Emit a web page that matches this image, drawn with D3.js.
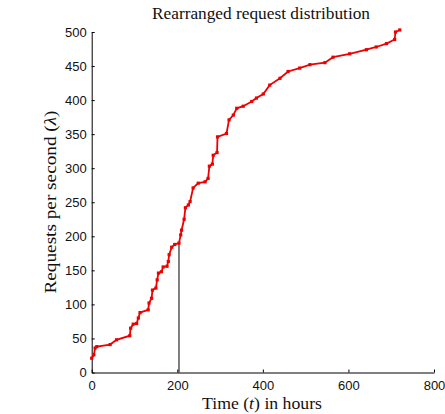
<!DOCTYPE html>
<html>
<head>
<meta charset="utf-8">
<script src="https://cdn.jsdelivr.net/npm/d3@7"></script>
<style>
  body { margin: 0; background: #fff; }
  svg { display: block; }
  .axis text { font-family: "Liberation Sans", Arial, sans-serif; font-size: 13px; fill: #111; }
  .axis path, .axis line { stroke: #000; stroke-width: 1; }
  .lbl { font-family: "Liberation Serif", "DejaVu Serif", serif; fill: #111; }
</style>
</head>
<body>
<div id="chart"></div>
<script>
// rearranged request distribution
var hours = [0, 5, 8, 12, 43, 58, 89, 91, 97, 105, 109, 113, 132, 134, 140, 142, 150, 153, 156, 163,
             167, 176, 179, 181, 187, 194, 204, 208, 210, 216, 219, 226, 230, 237, 249, 265, 272, 275,
             282, 284, 293, 294, 315, 321, 331, 339, 354, 374, 385, 401, 416, 440, 459, 486, 510, 545,
             564, 603, 642, 665, 689, 708, 710, 720];
var requests = [21, 26, 36, 38, 41, 48, 54, 65, 71, 72, 80, 88, 92, 102, 109, 121, 124, 136, 146, 148,
                155, 156, 163, 173, 184, 188, 190, 202, 209, 225, 242, 246, 251, 271, 278, 280, 285, 303,
                306, 319, 323, 346, 351, 371, 378, 388, 391, 398, 403, 409, 422, 432, 442, 447, 452, 455,
                463, 468, 474, 478, 483, 489, 500, 503];
var xTicks = [0, 200, 400, 600, 800];
var yTicks = [0, 50, 100, 150, 200, 250, 300, 350, 400, 450, 500];
var cutHour = 204;     // vertical marker line
var cutValue = 190;

var width = 445, height = 414;
var margin = {top: 32, right: 11, bottom: 41.5, left: 91.7};

var svg = d3.select("#chart").append("svg")
    .attr("width", width)
    .attr("height", height);

var g = svg.append("g");

var x = d3.scaleLinear()
    .domain([0, 800])
    .range([margin.left, width - margin.right]);

var y = d3.scaleLinear()
    .domain([0, 500])
    .range([height - margin.bottom, margin.top]);

g.append("g")
    .attr("class", "x axis")
    .attr("transform", "translate(0," + (height - margin.bottom) + ")")
    .call(d3.axisBottom(x).tickValues(xTicks).tickSizeInner(-3).tickSizeOuter(0).tickPadding(8));

g.append("g")
    .attr("class", "y axis")
    .attr("transform", "translate(" + margin.left + ",0)")
    .call(d3.axisLeft(y).tickValues(yTicks).tickSizeInner(-3).tickSizeOuter(0).tickPadding(5));

var data = hours.map(function(h, i) { return {t: h, v: requests[i]}; });

var line = d3.line()
    .x(function(d) { return x(d.t); })
    .y(function(d) { return y(d.v); });

g.append("line")
    .attr("x1", x(cutHour)).attr("x2", x(cutHour))
    .attr("y1", y(0)).attr("y2", y(cutValue))
    .attr("stroke", "#000").attr("stroke-width", 1);

g.append("path")
    .datum(data)
    .attr("fill", "none")
    .attr("stroke", "#ee0000")
    .attr("stroke-width", 1.8)
    .attr("d", line);

g.selectAll(".dot")
    .data(data)
  .enter().append("rect")
    .attr("class", "dot")
    .attr("x", function(d) { return x(d.t) - 1.6; })
    .attr("y", function(d) { return y(d.v) - 1.6; })
    .attr("width", 3.2).attr("height", 3.2)
    .attr("fill", "#ee0000");

// title and axis labels
svg.append("text").attr("class", "lbl")
    .attr("x", 261).attr("y", 19)
    .attr("text-anchor", "middle")
    .attr("font-size", 16)
    .attr("textLength", 218).attr("lengthAdjust", "spacingAndGlyphs")
    .text("Rearranged request distribution");

var xl = svg.append("text").attr("class", "lbl")
    .attr("x", 262).attr("y", 409)
    .attr("text-anchor", "middle")
    .attr("font-size", 17)
    .attr("textLength", 120).attr("lengthAdjust", "spacingAndGlyphs");
xl.append("tspan").text("Time (");
xl.append("tspan").attr("font-style", "italic").text("t");
xl.append("tspan").text(") in hours");

var yl = svg.append("text").attr("class", "lbl")
    .attr("transform", "translate(56,202) rotate(-90)")
    .attr("text-anchor", "middle")
    .attr("font-size", 17)
    .attr("textLength", 183).attr("lengthAdjust", "spacingAndGlyphs");
yl.append("tspan").text("Requests per second (");
yl.append("tspan").attr("font-style", "italic").text("λ");
yl.append("tspan").text(")");
</script>
</body>
</html>
